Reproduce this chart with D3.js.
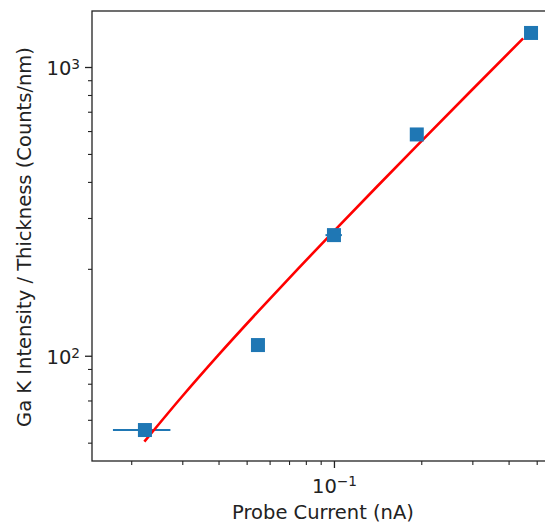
<!DOCTYPE html>
<html>
<head>
<meta charset="utf-8">
<script src="https://cdn.jsdelivr.net/npm/d3@7"></script>
<style>
  body { margin: 0; background: #fff; }
  text { font-family: "DejaVu Sans", sans-serif; fill: #222; }
</style>
</head>
<body>
<div id="chart"></div>
<script>
// measured points
const probeCurrent = [0.0223, 0.0547, 0.1, 0.193, 0.478];
const intensity = [55.3, 108.9, 261.7, 584, 1312];
const currentErr = [0.005, 0.002, 0.0065, 0.004, 0.005];

// fitted line, values (linear fit, curved on log axes)
const fitX = [0.0222, 0.03, 0.04, 0.0547, 0.075, 0.1, 0.14, 0.193, 0.3, 0.449];
const fitY = [50.4, 72.4, 100.7, 142.2, 199.6, 270.3, 383.4, 533.2, 835.7, 1257];

const yMajor = [100, 1000];
const yMinor = [50, 60, 70, 80, 90, 200, 300, 400, 500, 600, 700, 800, 900];
const xMajor = [0.1];
const xMinor = [0.02, 0.03, 0.04, 0.05, 0.06, 0.07, 0.08, 0.09, 0.2, 0.3, 0.4, 0.5];

const width = 545, height = 523;
const plot = { left: 92, right: 560, top: 11, bottom: 461 };
const fs = 19.5;

const svg = d3.select("#chart").append("svg")
    .attr("width", width)
    .attr("height", height);

const x = d3.scaleLog()
    .domain([0.01465, 0.1 * Math.pow(10, (plot.right - 334) / 290)])
    .range([plot.left, plot.right]);
const y = d3.scaleLog().domain([43.2, 1563]).range([plot.bottom, plot.top]);

// spines
svg.append("rect")
    .attr("x", plot.left).attr("y", plot.top)
    .attr("width", plot.right - plot.left).attr("height", plot.bottom - plot.top)
    .attr("fill", "none").attr("stroke", "#222").attr("stroke-width", 1.3);

function powLabel(sel, exp) {
  sel.each(function () {
    const t = d3.select(this).text("");
    t.append("tspan").text("10");
    t.append("tspan").attr("dy", "-0.45em").attr("font-size", "0.7em").text(exp);
  });
}

// y axis
svg.append("g").attr("transform", `translate(${plot.left},0)`)
    .call(d3.axisLeft(y).tickValues(yMinor).tickSize(4).tickFormat(""))
    .call(g => g.select(".domain").remove())
    .call(g => g.selectAll("line").attr("stroke", "#222").attr("stroke-width", 1.1));

const yAx = svg.append("g").attr("transform", `translate(${plot.left},0)`)
    .call(d3.axisLeft(y).tickValues(yMajor).tickSize(7).tickPadding(5).tickFormat(d => d))
    .call(g => g.select(".domain").remove())
    .call(g => g.selectAll("line").attr("stroke", "#222").attr("stroke-width", 1.3));
yAx.selectAll("text")
    .attr("font-size", fs).attr("font-family", "DejaVu Sans").attr("fill", "#222")
    .attr("dy", "0.4em")
    .each(function (d) { powLabel(d3.select(this), Math.round(Math.log10(d))); });

// x axis
svg.append("g").attr("transform", `translate(0,${plot.bottom})`)
    .call(d3.axisBottom(x).tickValues(xMinor).tickSize(4).tickFormat(""))
    .call(g => g.select(".domain").remove())
    .call(g => g.selectAll("line").attr("stroke", "#222").attr("stroke-width", 1.1));

const xAx = svg.append("g").attr("transform", `translate(0,${plot.bottom})`)
    .call(d3.axisBottom(x).tickValues(xMajor).tickSize(7).tickPadding(6).tickFormat(d => d))
    .call(g => g.select(".domain").remove())
    .call(g => g.selectAll("line").attr("stroke", "#222").attr("stroke-width", 1.3));
xAx.selectAll("text")
    .attr("font-size", fs).attr("font-family", "DejaVu Sans").attr("fill", "#222")
    .attr("dy", "0.95em")
    .each(function (d) { powLabel(d3.select(this), "\u22121"); });

// axis titles
svg.append("text")
    .attr("x", 323).attr("y", 519)
    .attr("text-anchor", "middle").attr("font-size", fs)
    .text("Probe Current (nA)");

svg.append("text")
    .attr("transform", `translate(31,237) rotate(-90)`)
    .attr("text-anchor", "middle").attr("font-size", fs)
    .text("Ga K Intensity / Thickness (Counts/nm)");

// error bars
svg.append("g").selectAll("line").data(probeCurrent).join("line")
    .attr("x1", (d, i) => x(d - currentErr[i]))
    .attr("x2", (d, i) => x(d + currentErr[i]))
    .attr("y1", (d, i) => y(intensity[i]))
    .attr("y2", (d, i) => y(intensity[i]))
    .attr("stroke", "#1f77b4").attr("stroke-width", 2);

// fit line
svg.append("path")
    .datum(fitX.map((d, i) => [d, fitY[i]]))
    .attr("d", d3.line().x(d => x(d[0])).y(d => y(d[1])).curve(d3.curveMonotoneX))
    .attr("fill", "none").attr("stroke", "red").attr("stroke-width", 2.6);

// markers
const ms = 14;
svg.append("g").selectAll("rect").data(probeCurrent).join("rect")
    .attr("x", d => x(d) - ms / 2)
    .attr("y", (d, i) => y(intensity[i]) - ms / 2)
    .attr("width", ms).attr("height", ms)
    .attr("fill", "#1f77b4");
</script>
</body>
</html>
